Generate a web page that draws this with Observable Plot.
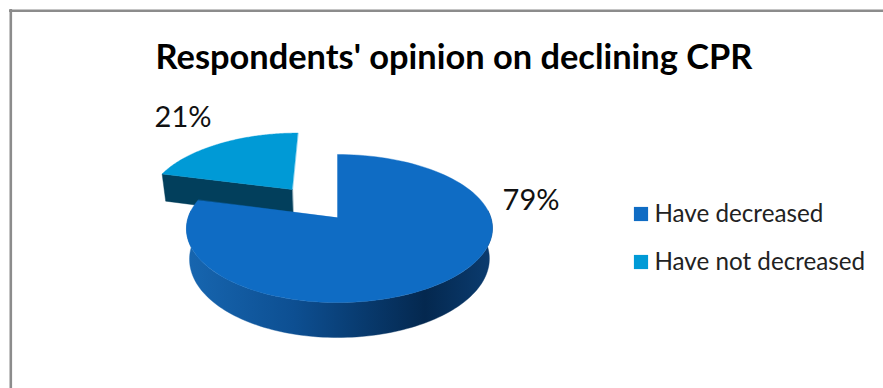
<!DOCTYPE html>
<html><head><meta charset="utf-8">
<script src="https://cdn.jsdelivr.net/npm/d3@7"></script>
<script src="https://cdn.jsdelivr.net/npm/@observablehq/plot@0.6"></script>
<style>html,body{margin:0;padding:0;background:#fff}svg{display:block}</style>
</head><body><div id="chart"></div>
<script>
const categories = ["Have decreased", "Have not decreased"];
const shares = [79, 21];
const labels = ["79%", "21%"];
const titleText = "Respondents' opinion on declining CPR";

const W = 883, H = 388;
const colors = ["#0f6cc4", "#009ad6"];
const sideDark = "#023f5c";
const stops = [[0, "#1766b0"], [0.35, "#0d4f92"], [0.78, "#04284f"], [1, "#0b3c70"]];

// 3D-looking projection of the unit disc
const cx = 339, cy = 217, a = 151.3, b = 72.4, k = 0.1486, depth = 29.8, explode = 0.52;
const rad = d3.pie().sort(null).value(d => d)(shares);
function proj(u, v, lower) {
  const s = 1 + k * v, shrink = lower ? 0.98 : 1;
  return {
    x: cx + shrink * a * u / s - 2 * Math.max(0, 1 - u * u),
    y: cy - b * v / s + (lower ? depth / s : 0)
  };
}
function sector(start, end, du, dv) {
  const n = 120, pts = [proj(du, dv)];
  for (let i = 0; i <= n; i++) {
    const t = start + (end - start) * i / n;
    pts.push(proj(du + Math.sin(t), dv + Math.cos(t)));
  }
  return pts;
}
const big = rad[0], small = rad[1];
const mid = (small.startAngle + small.endAngle) / 2;
const du = explode * Math.sin(mid), dv = explode * Math.cos(mid);

// outer wall of the big slice
const th0 = Math.PI * 0.47, th1 = Math.min(big.endAngle, Math.PI * 1.53);
const arc = d3.range(121).map(i => th0 + (th1 - th0) * i / 120);
const wall = [
  ...arc.map(t => proj(Math.sin(t), Math.cos(t))),
  ...arc.slice().reverse().map(t => proj(Math.sin(t), Math.cos(t), true))
];
// cut face of the small slice
const e = small.startAngle;
const face = [proj(du, dv), proj(du + Math.sin(e), dv + Math.cos(e)),
  proj(du + Math.sin(e), dv + Math.cos(e), true), proj(du, dv, true)];

const poly = (data, fill) => Plot.line(data, {x: "x", y: "y", fill, stroke: fill, strokeWidth: 0.4, curve: "linear-closed"});

const legendRows = categories.map((name, i) => ({name, color: colors[i], y: 213.5 + i * 48}));
const font = "Lato, Carlito, sans-serif";

const plot = Plot.plot({
  width: W, height: H, margin: 0,
  x: {domain: [0, W], range: [0, W], axis: null},
  y: {domain: [0, H], range: [0, H], axis: null},
  style: {background: "#fff", fontFamily: font},
  marks: [
    Plot.ruleX([10.3], {y1: 9, y2: H, stroke: "#8c8c8c", strokeWidth: 2.6}),
    Plot.ruleY([10.3], {x1: 9, x2: W, stroke: "#8c8c8c", strokeWidth: 2.6}),
    poly(face, sideDark),
    poly(sector(small.startAngle, small.endAngle, du, dv), colors[1]),
    poly(wall, "url(#wallGrad)"),
    poly(sector(big.startAngle, big.endAngle, 0, 0), colors[0]),
    Plot.text([titleText], {x: 453.5, y: 57, text: d => d, fontSize: 34.4, fontWeight: 700, fill: "#000", fontFamily: font}),
    Plot.text([labels[0]], {x: 530.5, y: 200, text: d => d, fontSize: 29, fill: "#111", fontFamily: font}),
    Plot.text([labels[1]], {x: 182.5, y: 117, text: d => d, fontSize: 29, fill: "#111", fontFamily: font}),
    Plot.dot(legendRows, {x: 640.5, y: "y", symbol: "square", r: 8, fill: "color", stroke: null}),
    Plot.text(legendRows, {x: 654, y: "y", text: "name", textAnchor: "start", fontSize: 24.2, fill: "#222", fontFamily: font})
  ]
});
const grad = d3.select(plot).insert("defs", ":first-child").append("linearGradient")
  .attr("id", "wallGrad").attr("gradientUnits", "userSpaceOnUse")
  .attr("x1", 186).attr("x2", 492).attr("y1", 0).attr("y2", 0);
stops.forEach(([o, c]) => grad.append("stop").attr("offset", o).attr("stop-color", c));
document.getElementById("chart").append(plot);
</script></body></html>
